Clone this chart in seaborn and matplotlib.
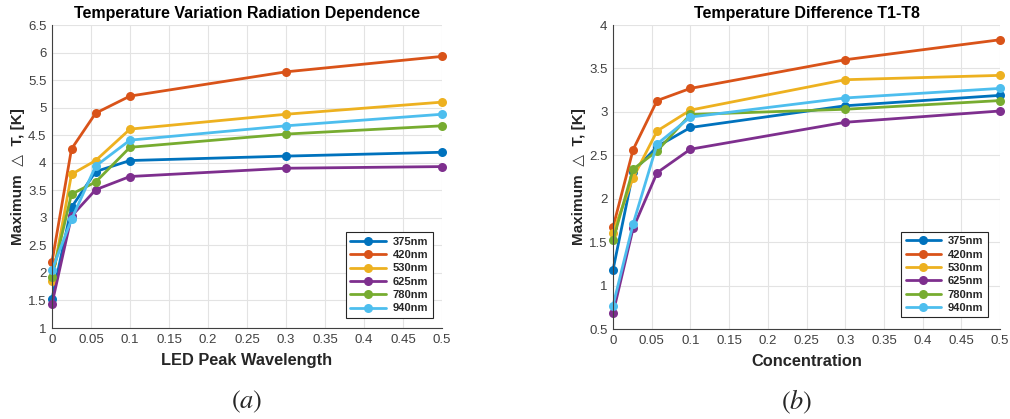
import matplotlib
matplotlib.use("Agg")
import matplotlib.pyplot as plt
import seaborn as sns
import pandas as pd

sns.set_theme(style="white")
plt.rcParams['font.family'] = ['Liberation Sans', 'DejaVu Sans']
plt.rcParams['mathtext.fontset'] = 'stix'

series = ["375nm", "420nm", "530nm", "625nm", "780nm", "940nm"]
colors = ["#0072BD", "#D95319", "#EDB120", "#7E2F8E", "#77AC30", "#4DBEEE"]

x_a = [0, 0.025, 0.056, 0.1, 0.3, 0.5]
a_375 = [1.53, 3.19, 3.84, 4.04, 4.12, 4.19]
a_420 = [2.20, 4.25, 4.90, 5.21, 5.65, 5.93]
a_530 = [1.86, 3.79, 4.04, 4.61, 4.88, 5.10]
a_625 = [1.44, 3.03, 3.51, 3.75, 3.90, 3.93]
a_780 = [1.93, 3.43, 3.65, 4.28, 4.52, 4.67]
a_940 = [2.05, 2.97, 3.94, 4.41, 4.67, 4.88]

x_b = [0, 0.026, 0.057, 0.1, 0.3, 0.5]
b_375 = [1.18, 2.31, 2.60, 2.82, 3.07, 3.19]
b_420 = [1.67, 2.565, 3.13, 3.27, 3.60, 3.83]
b_530 = [1.61, 2.24, 2.78, 3.02, 3.37, 3.42]
b_625 = [0.68, 1.66, 2.30, 2.57, 2.88, 3.01]
b_780 = [1.52, 2.34, 2.55, 2.97, 3.03, 3.13]
b_940 = [0.77, 1.71, 2.63, 2.94, 3.16, 3.27]

titles = ["Temperature Variation Radiation Dependence", "Temperature Difference T1-T8"]
xlabels = ["LED Peak Wavelength", "Concentration"]
ylabel = "Maximum  \u25B3  T, [K]"
panel_labels = ["$(a)$", "$(b)$"]

fig = plt.figure(figsize=(10.10, 4.19), dpi=100)
W, H = 1010, 419
ax_a = fig.add_axes([52 / W, 1 - 328 / H, (442 - 52) / W, (328 - 25) / H])
ax_b = fig.add_axes([613 / W, 1 - 329 / H, (1000 - 613) / W, (329 - 25) / H])


def draw(ax, xs, data, ylim, yticks, yticklabels, title, xlabel, legend_anchor):
    rows = []
    for name, vals in zip(series, data):
        for xv, yv in zip(xs, vals):
            rows.append({"x": xv, "y": yv, "s": name})
    df = pd.DataFrame(rows)
    sns.lineplot(data=df, x="x", y="y", hue="s", palette=colors, marker="o",
                 markersize=6.5, markeredgewidth=0, linewidth=2, ax=ax,
                 sort=False, estimator=None, clip_on=False)
    ax.set_xlim(0, 0.5)
    ax.set_ylim(*ylim)
    xt = [i * 0.05 for i in range(11)]
    ax.set_xticks(xt)
    ax.set_xticklabels(["0", "0.05", "0.1", "0.15", "0.2", "0.25", "0.3", "0.35", "0.4", "0.45", "0.5"])
    ax.set_yticks(yticks)
    ax.set_yticklabels(yticklabels)
    ax.grid(True, color="#e3e3e3", linewidth=0.8)
    ax.set_axisbelow(True)
    for sp in ["top", "right"]:
        ax.spines[sp].set_visible(False)
    for sp in ["left", "bottom"]:
        ax.spines[sp].set_color("#404040")
        ax.spines[sp].set_linewidth(0.8)
    ax.tick_params(axis="both", direction="in", length=3, width=0.6, colors="#404040",
                   labelsize=9.5, labelcolor="#404040", pad=4)
    ax.set_title(title, fontsize=11.5, fontweight="bold", color="black", pad=5)
    ax.set_xlabel(xlabel, fontsize=11.8, fontweight="bold", color="#262626", labelpad=5)
    ax.set_ylabel(ylabel, fontsize=11, fontweight="bold", color="#262626", labelpad=2)
    leg = ax.legend(loc="lower right", bbox_to_anchor=legend_anchor, fancybox=False,
                    framealpha=1, edgecolor="#262626", prop={"size": 8, "weight": "bold"},
                    handlelength=3.2, labelspacing=0.3, borderpad=0.4, handletextpad=0.6)
    leg.get_frame().set_linewidth(0.8)
    for t in leg.get_texts():
        t.set_color("#262626")


draw(ax_a, x_a, [a_375, a_420, a_530, a_625, a_780, a_940], (1, 6.5),
     [1, 1.5, 2, 2.5, 3, 3.5, 4, 4.5, 5, 5.5, 6, 6.5],
     ["1", "1.5", "2", "2.5", "3", "3.5", "4", "4.5", "5", "5.5", "6", "6.5"],
     titles[0], xlabels[0], (0.99, 0.015))
draw(ax_b, x_b, [b_375, b_420, b_530, b_625, b_780, b_940], (0.5, 4),
     [0.5, 1, 1.5, 2, 2.5, 3, 3.5, 4],
     ["0.5", "1", "1.5", "2", "2.5", "3", "3.5", "4"],
     titles[1], xlabels[1], (0.983, 0.02))

fig.text(247 / W, 1 - 402 / H, panel_labels[0], ha="center", va="center", fontsize=19)
fig.text(797 / W, 1 - 402 / H, panel_labels[1], ha="center", va="center", fontsize=19)

fig.savefig("out.png", dpi=100, facecolor="white")
